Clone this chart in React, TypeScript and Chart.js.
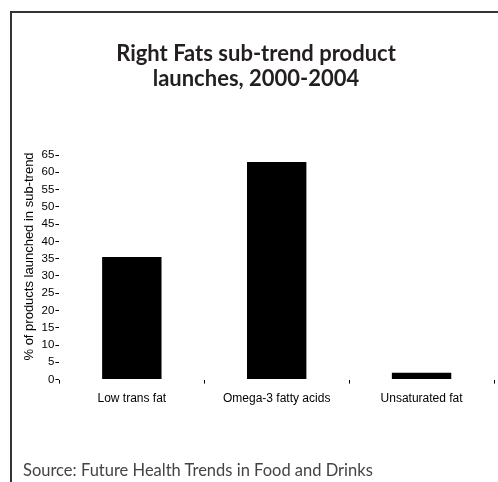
import React, { useEffect, useRef } from "react";
import { Chart, registerables } from "chart.js";

Chart.register(...registerables);

const titleLines = ["Right Fats sub-trend product", "launches, 2000-2004"];
const categories = ["Low trans fat", "Omega-3 fatty acids", "Unsaturated fat"];
const values = [35.5, 63, 2];
const yTitle = "% of products launched in sub-trend";
const yMin = 0;
const yMax = 65;
const yStep = 5;
const sourceText = "Source: Future Health Trends in Food and Drinks";

export default function App() {
  const ref = useRef<HTMLCanvasElement | null>(null);

  useEffect(() => {
    if (!ref.current) return;
    const chart = new Chart(ref.current, {
      type: "bar",
      data: {
        labels: categories,
        datasets: [
          {
            data: values,
            backgroundColor: "#000000",
            borderWidth: 0,
            categoryPercentage: 1,
            barPercentage: 0.41,
          },
        ],
      },
      options: {
        responsive: false,
        animation: false,
        devicePixelRatio: 1,
        layout: { padding: { left: 18, right: 4, top: 0, bottom: 68 } },
        plugins: {
          legend: { display: false },
          tooltip: { enabled: false },
          title: {
            display: true,
            text: titleLines,
            color: "#231f20",
            font: { family: "Lato", size: 22, weight: "bold", lineHeight: "25px" },
            padding: { top: 41, bottom: 64 },
          },
        },
        scales: {
          x: {
            offset: true,
            border: { display: false },
            grid: {
              display: true,
              offset: true,
              drawOnChartArea: false,
              drawTicks: true,
              tickLength: 4,
              color: "#000000",
              lineWidth: 1,
            },
            ticks: {
              color: "#000000",
              padding: 8,
              font: { family: "Liberation Sans", size: 12 },
              maxRotation: 0,
            },
          },
          y: {
            min: yMin,
            max: yMax,
            border: { display: false },
            grid: {
              display: true,
              drawOnChartArea: false,
              drawTicks: true,
              tickLength: 4,
              color: "#000000",
              lineWidth: 1,
            },
            ticks: {
              stepSize: yStep,
              color: "#000000",
              padding: 1,
              font: { family: "Liberation Sans", size: 11.5 },
            },
            title: {
              display: true,
              text: "\u00a0\u00a0\u00a0\u00a0\u00a0\u00a0" + yTitle,
              color: "#000000",
              font: { family: "Liberation Sans", size: 13 },
              padding: { top: 4, bottom: 3 },
            },
          },
        },
      },
    });
    return () => chart.destroy();
  }, []);

  return (
    <div style={{ position: "absolute", left: 0, top: 0, width: 498, height: 482, background: "#fff", overflow: "hidden" }}>
      <div
        style={{
          position: "absolute",
          left: 10,
          top: 11,
          width: 490,
          height: 480,
          borderLeft: "2px solid #333",
          borderTop: "2px solid #333",
          boxSizing: "border-box",
        }}
      />
      <canvas ref={ref} width={498} height={482} style={{ position: "absolute", left: 0, top: 0 }} />
      <div
        style={{
          position: "absolute",
          left: 23,
          top: 460,
          fontFamily: "Lato",
          fontSize: 16.5,
          lineHeight: "20px",
          color: "#444",
          whiteSpace: "nowrap",
        }}
      >
        {sourceText}
      </div>
    </div>
  );
}
